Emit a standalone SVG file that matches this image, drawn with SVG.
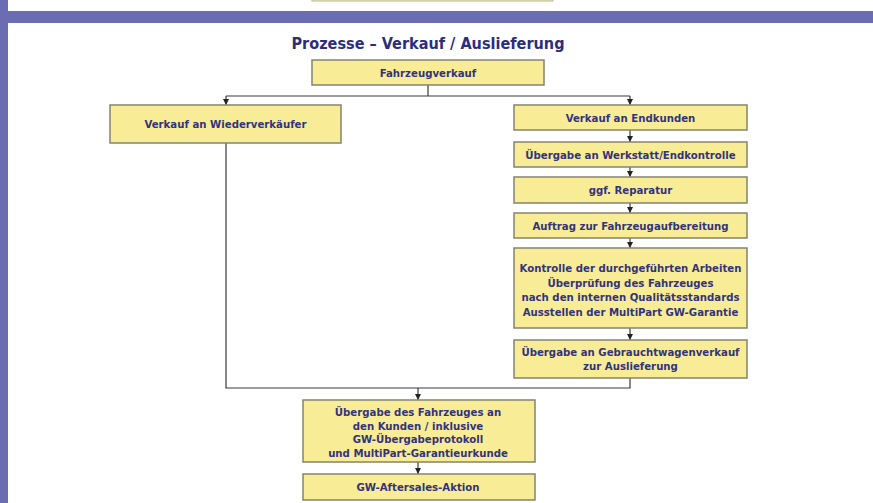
<svg xmlns="http://www.w3.org/2000/svg" width="873" height="503" viewBox="0 0 873 503">
<style>
.box{fill:#f8ec96;stroke:#85846c;stroke-width:1.5}
.t{font-family:"DejaVu Sans Condensed","DejaVu Sans",sans-serif;font-stretch:condensed;font-weight:bold;font-size:11.3px;fill:#33337d;text-anchor:middle}
.c{fill:none;stroke:#3a3a3a;stroke-width:1.2}
</style>
<defs>
<marker id="ah" viewBox="0 0 8 8" refX="8" refY="4" markerWidth="6" markerHeight="6" markerUnits="userSpaceOnUse" orient="auto">
<path d="M0,0 L8,4 L0,8 z" fill="#222"/>
</marker>
</defs>
<rect width="873" height="503" fill="#ffffff"/>
<rect x="0" y="0" width="8" height="503" fill="#6b6db3"/>
<rect x="0" y="11" width="873" height="12" fill="#6b6db3"/>
<rect x="312" y="-10" width="241" height="11" fill="#f3edc0" stroke="#b8b49a" stroke-width="1"/>
<text x="428" y="48.5" font-family="'DejaVu Sans Condensed','DejaVu Sans',sans-serif" font-stretch="condensed" font-weight="bold" font-size="16.5" fill="#2d2d80" text-anchor="middle" textLength="273" lengthAdjust="spacingAndGlyphs">Prozesse – Verkauf / Auslieferung</text>

<g id="connectors">
<path class="c" d="M428,85 V96 M226,96 H630"/>
<path class="c" d="M226,96 V105" marker-end="url(#ah)"/>
<path class="c" d="M630,96 V105" marker-end="url(#ah)"/>
<path class="c" d="M630,130 V142" marker-end="url(#ah)"/>
<path class="c" d="M630,167 V177" marker-end="url(#ah)"/>
<path class="c" d="M630,203 V213" marker-end="url(#ah)"/>
<path class="c" d="M630,238 V248" marker-end="url(#ah)"/>
<path class="c" d="M630,328 V340" marker-end="url(#ah)"/>
<path class="c" d="M226,143 V388 H630 V378"/>
<path class="c" d="M418,388 V400" marker-end="url(#ah)"/>
<path class="c" d="M418,462 V474" marker-end="url(#ah)"/>
</g>

<g id="n-fahrzeugverkauf"><rect class="box" x="312" y="60" width="232" height="25"/><text class="t" x="428" y="76.5">Fahrzeugverkauf</text></g>
<g id="n-wiederverkaeufer"><rect class="box" x="110" y="105" width="231" height="38"/><text class="t" x="225.5" y="128">Verkauf an Wiederverkäufer</text></g>
<g id="n-endkunden"><rect class="box" x="514" y="105" width="233" height="25"/><text class="t" x="630.5" y="121.5">Verkauf an Endkunden</text></g>
<g id="n-werkstatt"><rect class="box" x="514" y="142" width="233" height="25"/><text class="t" x="630.5" y="158.5">Übergabe an Werkstatt/Endkontrolle</text></g>
<g id="n-reparatur"><rect class="box" x="514" y="177" width="233" height="26"/><text class="t" x="630.5" y="194">ggf. Reparatur</text></g>
<g id="n-aufbereitung"><rect class="box" x="514" y="213" width="233" height="25"/><text class="t" x="630.5" y="229.5">Auftrag zur Fahrzeugaufbereitung</text></g>
<g id="n-kontrolle"><rect class="box" x="514" y="248" width="233" height="80"/>
<text class="t" x="630.5" y="272">Kontrolle der durchgeführten Arbeiten</text>
<text class="t" x="630.5" y="286.5">Überprüfung des Fahrzeuges</text>
<text class="t" x="630.5" y="301">nach den internen Qualitätsstandards</text>
<text class="t" x="630.5" y="315.5">Ausstellen der MultiPart GW-Garantie</text></g>
<g id="n-gwverkauf"><rect class="box" x="514" y="340" width="233" height="38"/>
<text class="t" x="630.5" y="356">Übergabe an Gebrauchtwagenverkauf</text>
<text class="t" x="630.5" y="370">zur Auslieferung</text></g>
<g id="n-uebergabe"><rect class="box" x="303" y="400" width="232" height="62"/>
<text class="t" x="418" y="416">Übergabe des Fahrzeuges an</text>
<text class="t" x="418" y="429.5">den Kunden / inklusive</text>
<text class="t" x="418" y="443">GW-Übergabeprotokoll</text>
<text class="t" x="418" y="456.5">und MultiPart-Garantieurkunde</text></g>
<g id="n-aftersales"><rect class="box" x="303" y="474" width="232" height="26"/><text class="t" x="418" y="491">GW-Aftersales-Aktion</text></g>
</svg>
